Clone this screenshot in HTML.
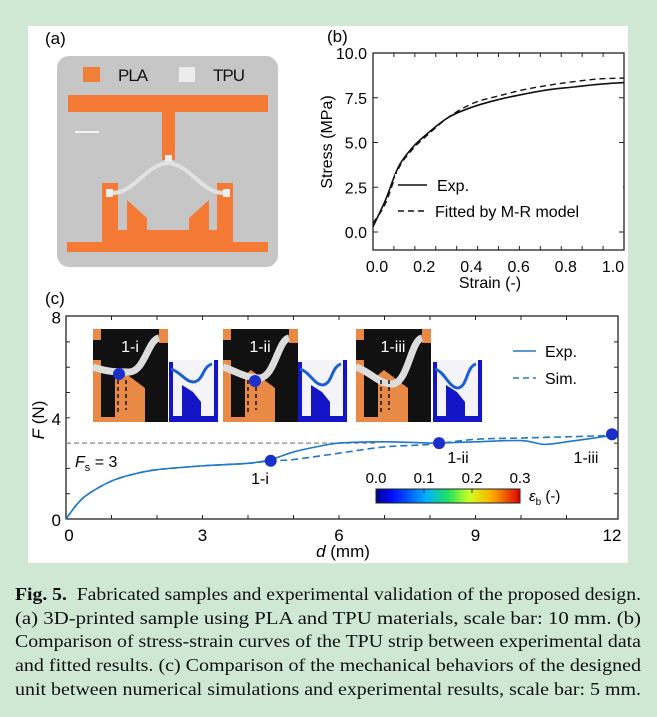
<!DOCTYPE html>
<html><head><meta charset="utf-8"><style>
body{margin:0;width:657px;height:717px;background:#cfe8d4;overflow:hidden;position:relative;font-family:"Liberation Sans",sans-serif}
#panel{position:absolute;left:28px;top:26px;width:600px;height:537px;background:#fff}
#cap{position:absolute;left:15px;top:583px;width:626px;font-family:"Liberation Serif",serif;font-size:17.5px;line-height:23.7px;color:#111}
#cap div{white-space:nowrap;transform-origin:0 0;width:max-content;word-spacing:0}
svg{position:absolute;left:0;top:0}
</style></head><body>
<div id="panel"></div>
<svg id="fig" width="657" height="717" font-family="Liberation Sans, sans-serif"></svg>
<div id="cap">
<div><b>Fig. 5.</b>&nbsp; Fabricated samples and experimental validation of the proposed design.</div>
<div>(a) 3D-printed sample using PLA and TPU materials, scale bar: 10 mm. (b)</div>
<div>Comparison of stress-strain curves of the TPU strip between experimental data</div>
<div>and fitted results. (c) Comparison of the mechanical behaviors of the designed</div>
<div>unit between numerical simulations and experimental results, scale bar: 5 mm.</div>
</div>
<script>
// Panel (b) data
const strainExp=[0,0.05,0.1,0.15,0.2,0.3,0.4,0.5,0.6,0.7,0.8,0.9,1.0];
const stressExp=[0.3,1.8,3.6,4.6,5.3,6.4,7.0,7.4,7.7,7.95,8.1,8.25,8.35];
const strainFit=[0,0.05,0.1,0.15,0.2,0.3,0.4,0.5,0.6,0.7,0.8,0.9,1.0];
const stressFit=[0.5,1.6,3.5,4.5,5.2,6.4,7.2,7.6,7.95,8.2,8.4,8.55,8.6];
const bXTicks=[0,0.2,0.4,0.6,0.8,1.0];
const bYTicks=[0,2.5,5,7.5,10];
// Panel (c) data
const dExp=[0,0.25,0.5,1,1.5,2,3,4,4.5,5,5.5,6,7,8,8.2,9,10,10.5,11,12];
const fExp=[0,0.6,1.0,1.5,1.78,1.95,2.1,2.2,2.35,2.65,2.85,3.0,3.05,3.0,3.0,3.05,3.1,2.95,3.05,3.3];
const dSim=[0,0.25,0.5,1,1.5,2,3,4,4.5,5,6,7,8,9,10,11,12];
const fSim=[0,0.6,1.0,1.5,1.78,1.95,2.1,2.2,2.3,2.35,2.6,2.85,2.95,3.15,3.2,3.25,3.3];
const markD=[4.5,8.2,12];
const markF=[2.3,3.0,3.35];
const markLabels=["1-i","1-ii","1-iii"];
const cXTicks=[0,3,6,9,12];
const cYTicks=[0,4,8];
const cbTicks=[0.0,0.1,0.2,0.3];
const Fs=3;

const S=document.getElementById('fig');const NS='http://www.w3.org/2000/svg';
function el(t,a,p){const e=document.createElementNS(NS,t);for(const k in a)e.setAttribute(k,a[k]);(p||S).appendChild(e);return e;}
function txt(x,y,s,a,p){const e=el('text',Object.assign({x:x,y:y},a||{}),p);e.textContent=s;return e;}

// ---------- Panel a ----------
let t=txt(45,44,'(a)',{'font-size':17});
let g=el('g',{});
el('rect',{x:57,y:56,width:221,height:211,rx:12,fill:'#c6c6c6'},g);
el('rect',{x:83,y:67,width:17,height:15,fill:'#f07f3a'},g);
txt(118,81,'PLA',{'font-size':17,fill:'#111','letter-spacing':'-1'},g);
el('rect',{x:179,y:67,width:16,height:15,fill:'#ececec'},g);
txt(213,81,'TPU',{'font-size':17,fill:'#111','letter-spacing':'-1'},g);
const OR='#f47a35';
el('rect',{x:68,y:95,width:200,height:17,fill:OR},g);
el('rect',{x:162,y:112,width:13,height:48,fill:OR},g);
el('rect',{x:165,y:155,width:7,height:8,fill:'#eee'},g);
el('rect',{x:102,y:183,width:16,height:60,fill:OR},g);
el('rect',{x:217,y:183,width:16,height:60,fill:OR},g);
el('polygon',{points:'127,200 147,218 147,232 189,232 189,218 209,200 209,232 127,232',fill:OR},g);
el('rect',{x:118,y:230,width:99,height:13,fill:OR},g);
el('rect',{x:67,y:242,width:201,height:10,fill:OR},g);
el('path',{d:'M112,193 C135,193 145,165 168,163 C191,165 201,193 224,193',stroke:'#e2e2e2','stroke-width':4,fill:'none'},g);
el('rect',{x:106,y:189,width:7,height:8,fill:'#eee'},g);el('rect',{x:223,y:189,width:7,height:8,fill:'#eee'},g);
el('line',{x1:75,y1:132,x2:99,y2:132,stroke:'#fff','stroke-width':1.5},g);

// ---------- Panel b ----------
t=txt(327,42,'(b)',{'font-size':17});
const bx=v=>373+v*251, by=v=>232-v*17.9, bxl=v=>377+v*236;
let r=el('rect',{x:373,y:53,width:251,height:197,fill:'none',stroke:'#222','stroke-width':1.3});
for(let i=1;i<12;i++){const x=373+i*251/12;el('line',{x1:x,y1:53,x2:x,y2:57,stroke:'#222'});el('line',{x1:x,y1:250,x2:x,y2:246,stroke:'#222'});}
bYTicks.forEach(v=>{el('line',{x1:373,y1:by(v),x2:378,y2:by(v),stroke:'#222'});el('line',{x1:624,y1:by(v),x2:619,y2:by(v),stroke:'#222'});
 const e=txt(367,by(v)+6,v.toFixed(1),{'font-size':16,'text-anchor':'end'});});
bXTicks.forEach(v=>{const e=txt(bxl(v),272,v.toFixed(1),{'font-size':16,'text-anchor':'middle'});});
t=txt(490,288,'Strain (-)',{'font-size':16,'text-anchor':'middle'});
t=txt(0,0,'Stress (MPa)',{'font-size':16,'text-anchor':'middle',transform:'translate(332,142) rotate(-90)'});
function smooth(xs,ys,fx,fy){const p=xs.map((x,i)=>[fx(x),fy(ys[i])]);let d='M'+p[0];for(let i=0;i<p.length-1;i++){const p0=p[i-1]||p[i],p1=p[i],p2=p[i+1],p3=p[i+2]||p2;d+=`C${p1[0]+(p2[0]-p0[0])/6},${p1[1]+(p2[1]-p0[1])/6} ${p2[0]-(p3[0]-p1[0])/6},${p2[1]-(p3[1]-p1[1])/6} ${p2[0]},${p2[1]}`;}return d;}
let p=el('path',{d:smooth(strainExp,stressExp,bx,by),fill:'none',stroke:'#111','stroke-width':1.6});
p=el('path',{d:smooth(strainFit,stressFit,bx,by),fill:'none',stroke:'#111','stroke-width':1.4,'stroke-dasharray':'6,4'});
g=el('g',{});
el('rect',{x:395,y:174,width:228,height:46,fill:'#fff'},g);
el('line',{x1:398,y1:185,x2:427,y2:185,stroke:'#111','stroke-width':1.5},g);txt(437,191,'Exp.',{'font-size':16},g);
el('line',{x1:398,y1:211,x2:428,y2:211,stroke:'#111','stroke-width':1.4,'stroke-dasharray':'6,4'},g);txt(435,217,'Fitted by M-R model',{'font-size':16},g);

// ---------- Panel c ----------
t=txt(45,304,'(c)',{'font-size':17});
const cx=v=>66+v*(612-66)/12, cy=v=>519-v*25.3;
r=el('rect',{x:66,y:316,width:552,height:203,fill:'none',stroke:'#222','stroke-width':1.3});
for(let v=1;v<12;v++){el('line',{x1:cx(v),y1:316,x2:cx(v),y2:320,stroke:'#222'});el('line',{x1:cx(v),y1:519,x2:cx(v),y2:515,stroke:'#222'});}
for(let v=1;v<8;v++){el('line',{x1:66,y1:cy(v),x2:70,y2:cy(v),stroke:'#222'});el('line',{x1:618,y1:cy(v),x2:614,y2:cy(v),stroke:'#222'});}
cYTicks.forEach(v=>{const e=txt(61,cy(v)+7,String(v),{'font-size':17,'text-anchor':'end'});});
cXTicks.forEach(v=>{const e=txt(cx(v)+(v===0?3:0),541,String(v),{'font-size':17,'text-anchor':'middle'});});
t=el('text',{x:343,y:557,'font-size':17,'text-anchor':'middle'});t.innerHTML='<tspan font-style="italic">d</tspan> (mm)';
t=el('text',{'font-size':17,'text-anchor':'middle',transform:'translate(44,420) rotate(-90)'});t.innerHTML='<tspan font-style="italic">F</tspan> (N)';
let fl=el('line',{x1:66,y1:cy(Fs),x2:cx(6.8),y2:cy(Fs),stroke:'#888','stroke-width':1.2,'stroke-dasharray':'5,3'});
t=el('text',{x:75,y:467,'font-size':16});t.innerHTML='<tspan font-style="italic">F</tspan><tspan font-size="11" dy="4">s</tspan><tspan dy="-4"> = 3</tspan>';
const BL='#1f78c8';
p=el('path',{d:smooth(dSim,fSim,cx,cy),fill:'none',stroke:BL,'stroke-width':1.6,'stroke-dasharray':'7,4'});
p=el('path',{d:smooth(dExp,fExp,cx,cy),fill:'none',stroke:BL,'stroke-width':1.6});
markD.forEach((d,i)=>{const c=el('circle',{cx:cx(d),cy:cy(markF[i]),r:6,fill:'#1a2fcc'});});
const lblPos=[[260,484],[458,463],[586,463]];
markLabels.forEach((s,i)=>{const e=txt(lblPos[i][0],lblPos[i][1],s,{'font-size':16,'text-anchor':'middle'});});
g=el('g',{});
el('line',{x1:513,y1:351,x2:536,y2:351,stroke:BL,'stroke-width':1.6},g);txt(545,357,'Exp.',{'font-size':16},g);
el('line',{x1:513,y1:378,x2:536,y2:378,stroke:BL,'stroke-width':1.6,'stroke-dasharray':'6,4'},g);txt(545,384,'Sim.',{'font-size':16},g);
const defs=el('defs',{});const lg=el('linearGradient',{id:'jet'},defs);
[['0','#00008f'],['0.12','#0010ff'],['0.35','#00b0ff'],['0.5','#20e060'],['0.65','#d0ff20'],['0.8','#ffb000'],['1','#e00000']].forEach(s=>el('stop',{offset:s[0],'stop-color':s[1]},lg));
const cbx=v=>376+v/0.3*144;
r=el('rect',{x:376,y:489,width:144,height:14,fill:'url(#jet)',stroke:'#222'});
cbTicks.forEach(v=>{el('line',{x1:cbx(v),y1:489,x2:cbx(v),y2:493,stroke:'#222'});const e=txt(cbx(v),483,v.toFixed(1),{'font-size':15,'text-anchor':'middle'});});
t=el('text',{x:529,y:501,'font-size':15});t.innerHTML='<tspan font-style="italic">ε</tspan><tspan font-size="10" dy="4">b</tspan><tspan dy="-4"> (-)</tspan>';
function inset(x0,sx,lab,dot,sag){
 const gi=el('g',{});
 el('rect',{x:x0,y:329,width:75,height:93,fill:'#e88a45'},gi);
 el('polygon',{points:`${x0+8},329 ${x0+75},329 ${x0+75},422 ${x0+52},422 ${x0+52},388 ${x0+28},370 ${x0+22},375 ${x0+22},417 ${x0+8},417 ${x0+8},360 ${x0},360 ${x0},340 ${x0+8},340`,fill:'#111'},gi);
 el('rect',{x:x0+66,y:329,width:9,height:14,fill:'#e88a45'},gi);
 el('path',{d:`M${x0},367 C${x0+15},372 ${x0+22},${372+sag} ${x0+37},${372+sag} C${x0+52},${370+sag} ${x0+55},340 ${x0+66},338`,stroke:'#ddd','stroke-width':7,fill:'none'},gi);
 el('line',{x1:x0+25,y1:380,x2:x0+25,y2:412,stroke:'#111','stroke-dasharray':'4,3','stroke-width':1.5},gi);
 el('line',{x1:x0+33,y1:380,x2:x0+33,y2:410,stroke:'#111','stroke-dasharray':'4,3','stroke-width':1.5},gi);
 if(dot)el('circle',{cx:x0+dot[0],cy:dot[1],r:6,fill:'#1a2fcc'},gi);
 txt(x0+37,352,lab,{'font-size':16,fill:'#fff','text-anchor':'middle'},gi);
 el('rect',{x:sx,y:360,width:50,height:62,fill:'#f4f4f8'},gi);
 el('polygon',{points:`${sx},362 ${sx+4},362 ${sx+4},416 ${sx+13},416 ${sx+13},385 ${sx+24},392 ${sx+32},402 ${sx+32},416 ${sx+45},416 ${sx+45},360 ${sx+49},360 ${sx+49},422 ${sx},422`,fill:'#1515c8'},gi);
 el('path',{d:`M${sx+2},369 C${sx+12},372 ${sx+16},${382+sag/2} ${sx+25},${382+sag/2} C${sx+35},${380+sag/2} ${sx+33},367 ${sx+43},364`,stroke:'#1a5fd0','stroke-width':3,fill:'none'},gi);
}
inset(93,169,'1-i',[26,374],0);
inset(223,298,'1-ii',[32,381],6);
inset(356,433,'1-iii',null,12);
// fit caption lines to width
document.querySelectorAll('#cap div').forEach(d=>{const w=d.getBoundingClientRect().width;d.style.transform='scaleX('+(626/w)+')';});
</script>
</body></html>
